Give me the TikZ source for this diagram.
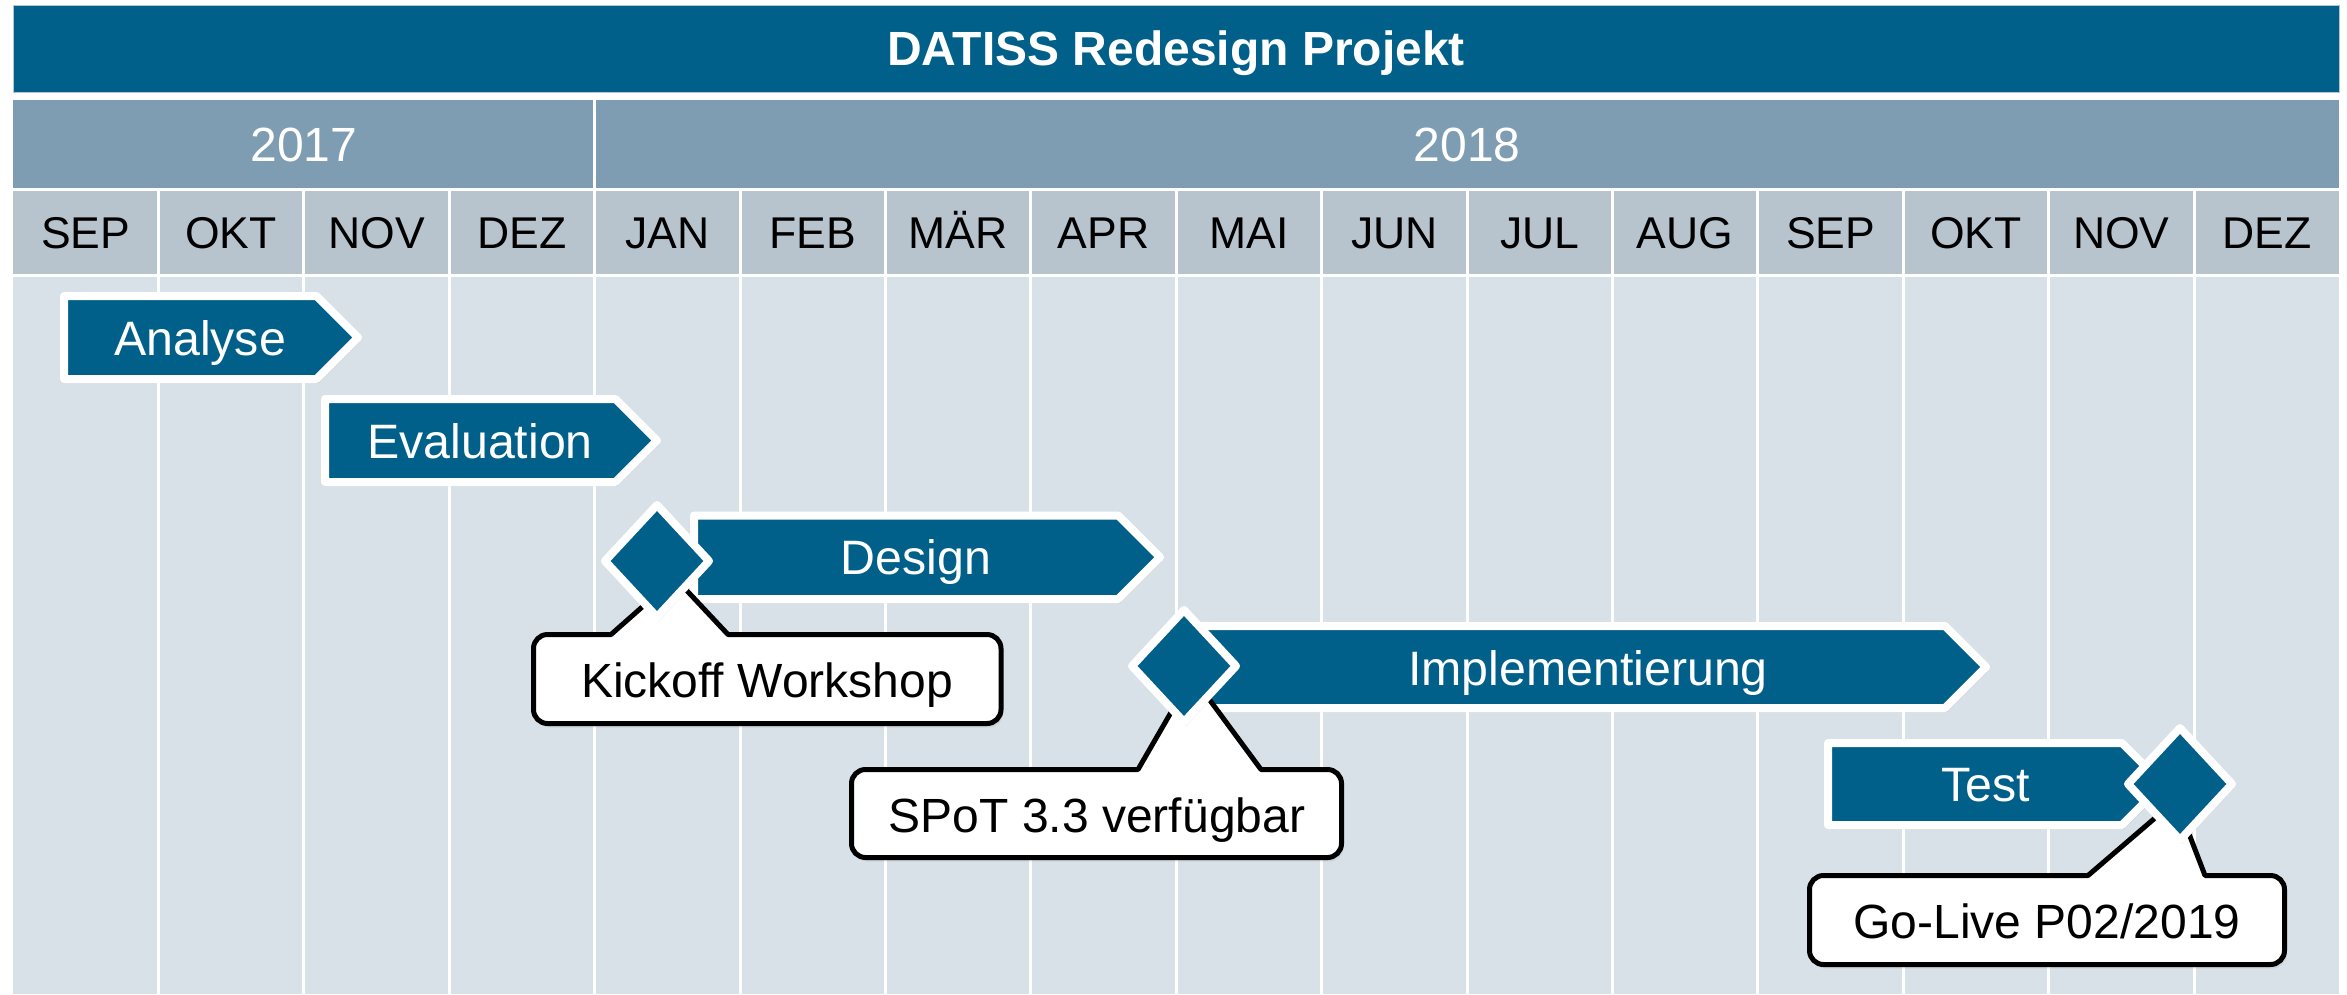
\documentclass[tikz,border=0pt]{standalone}
\usepackage{fontspec}
\setmainfont{Liberation Sans}
\usetikzlibrary{shadows}
\definecolor{petrol}{RGB}{0,96,137}
\definecolor{yearbar}{RGB}{127,157,178}
\definecolor{monthbar}{RGB}{183,196,206}
\definecolor{bodybg}{RGB}{217,225,232}
\definecolor{framecol}{RGB}{176,198,212}
\tikzset{
  taskshape/.style={fill=petrol, draw=white, line width=8pt, line join=round,
    drop shadow={shadow xshift=2pt, shadow yshift=-4pt, opacity=0.22}},
  calloutshape/.style={fill=white, draw=black, line width=5pt, line join=round,
    drop shadow={shadow xshift=2pt, shadow yshift=-4pt, opacity=0.15}},
  tasklabel/.style={text=white, font=\fontsize{48.3}{58}\selectfont, anchor=base, inner sep=0pt},
  calllabel/.style={text=black, font=\fontsize{48}{58}\selectfont, anchor=base, inner sep=0pt},
  monthlabel/.style={text=black, font=\fontsize{44.5}{53}\selectfont, anchor=base, inner sep=0pt},
  yearlabel/.style={text=white, font=\fontsize{48}{58}\selectfont, anchor=base, inner sep=0pt},
  titlelabel/.style={text=white, font=\fontsize{48}{58}\selectfont\bfseries, anchor=base, inner sep=0pt},
  sepline/.style={white, line width=3pt},
}
\newcommand\TaskBar[4]{%
  \path[taskshape] (#1,-#3) -- ({#2-(#4-#3)/2},-#3) -- (#2,{-(#3+#4)/2})
    -- ({#2-(#4-#3)/2},-#4) -- (#1,-#4) -- cycle;}
\newcommand\Milestone[2]{%
  \path[taskshape] (#1,{-#2+56}) -- ({#1+52},-#2) -- (#1,{-#2-56}) -- ({#1-52},-#2) -- cycle;}
\newcommand\CalloutBox[8]{%
  \path[calloutshape] ({#1+14},-#3) -- (#5,-#3) -- (#7,-#8) -- (#6,-#3) -- ({#2-14},-#3)
    arc[start angle=90,end angle=0,radius=14pt] -- (#2,{-#4+14})
    arc[start angle=0,end angle=-90,radius=14pt] -- ({#1+14},-#4)
    arc[start angle=-90,end angle=-180,radius=14pt] -- (#1,{-#3-14})
    arc[start angle=180,end angle=90,radius=14pt] -- cycle;}
\begin{document}
\begin{tikzpicture}[x=1pt,y=1pt]
\useasboundingbox (0,0) rectangle (2347,-994);
\fill[white] (0,0) rectangle (2347,-994);
% header bars
\fill[petrol] (13,-5) rectangle (2339,-92);
\draw[framecol, line width=1pt] (13,-5) rectangle (2339,-92);
\fill[yearbar] (13,-100) rectangle (2339,-188);
\fill[monthbar] (13,-191) rectangle (2339,-274);
\fill[bodybg] (13,-277) rectangle (2339,-994);
\draw[sepline] (594.6,-100) -- (594.6,-188);
\foreach \i in {1,...,15} \draw[sepline] ({13+145.4*\i},-191) -- ({13+145.4*\i},-994);
\node[titlelabel] (title) at (1176,-65.5) {DATISS Redesign Projekt};
\node[yearlabel] (y2017) at (304,-161) {2017};
\node[yearlabel] (y2018) at (1467,-161) {2018};
\foreach \m [count=\i from 0] in {SEP,OKT,NOV,DEZ,JAN,FEB,MÄR,APR,MAI,JUN,JUL,AUG,SEP,OKT,NOV,DEZ}
  \node[monthlabel] (m\i) at ({13+145.4*(\i+0.5)},-248) {\m};
% task bars
\TaskBar{64}{358}{296}{379}
\TaskBar{325}{657}{399}{482}
\TaskBar{694}{1160}{515.5}{599}
\TaskBar{1200}{1986}{626}{708}
\TaskBar{1828}{2163}{743}{825}
% callouts
\CalloutBox{533.5}{1001}{634.5}{723.5}{611}{728}{675}{578}
\CalloutBox{851.5}{1341.5}{769.5}{857.5}{1138}{1261}{1192}{676}
\CalloutBox{1809.5}{2284.5}{875.5}{964.5}{2088}{2205}{2176}{800}
% milestones
\Milestone{657}{561}
\Milestone{1184}{666}
\Milestone{2180}{784}
% labels
\node[tasklabel] (analyse) at (200,-355) {Analyse};
\node[tasklabel] (evaluation) at (480,-458) {Evaluation};
\node[tasklabel] (design) at (916,-574) {Design};
\node[tasklabel] (impl) at (1588,-685) {Implementierung};
\node[tasklabel] (test) at (1986,-801) {Test};
\node[calllabel] (kickoff) at (767,-697) {Kickoff Workshop};
\node[calllabel] (spot) at (1097,-832) {SPoT 3.3 verfügbar};
\node[calllabel] (golive) at (2047,-938) {Go-Live P02/2019};
\end{tikzpicture}
\end{document}
